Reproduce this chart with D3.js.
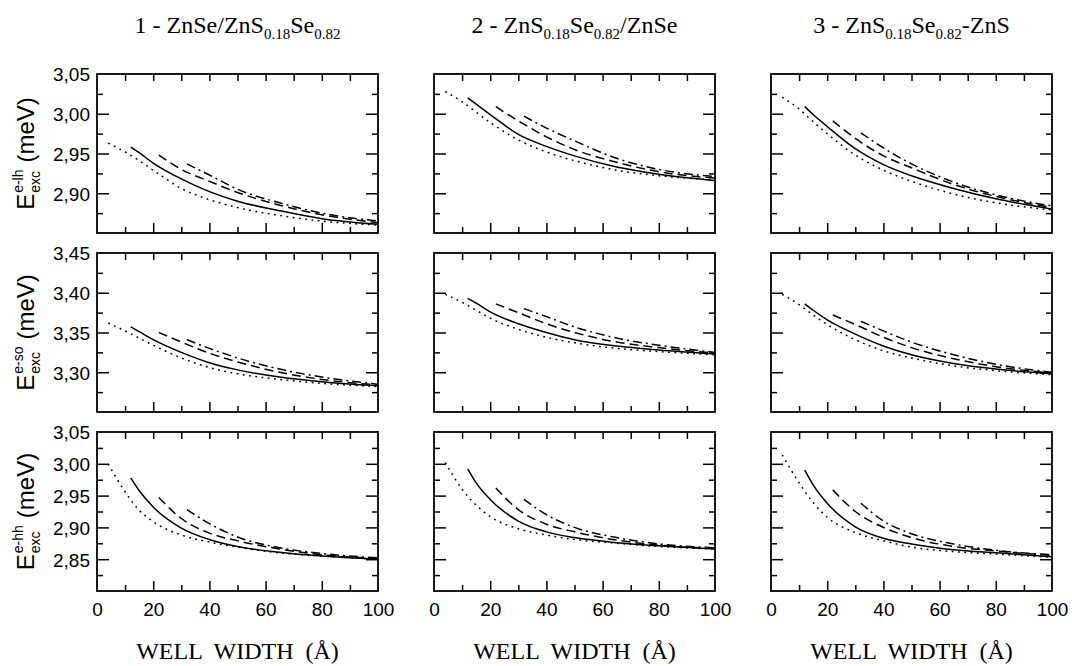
<!DOCTYPE html>
<html>
<head>
<meta charset="utf-8">
<script src="https://cdn.jsdelivr.net/npm/d3@7"></script>
<style>
  body { margin: 0; background: #fff; }
  text { fill: #000; }
</style>
</head>
<body>
<div id="chart"></div>
<script>
// Screen dimensions
var w = 1072;
var h = 666;

// Well widths (Å) at which each curve was read: dotted, solid, dashed, dash-dot
var dotX = [4, 10, 15, 20, 30, 40, 50, 65, 80, 100];
var solidX = [12, 15, 20, 30, 40, 50, 65, 80, 100];
var dashX = [22, 30, 40, 50, 65, 80, 100];
var dashDotX = [32, 40, 50, 65, 80, 100];

// Exciton energies (eV as printed), one array per panel: [dotted, solid, dashed, dash-dot]
// row 1: e-lh
var elh1 = [
  [2.963, 2.952, 2.941, 2.929, 2.906, 2.892, 2.882, 2.872, 2.865, 2.860],
  [2.958, 2.951, 2.938, 2.918, 2.902, 2.890, 2.878, 2.868, 2.861],
  [2.948, 2.930, 2.915, 2.901, 2.885, 2.873, 2.863],
  [2.937, 2.923, 2.905, 2.888, 2.875, 2.865]
];
var elh2 = [
  [3.028, 3.015, 3.002, 2.989, 2.967, 2.952, 2.941, 2.929, 2.922, 2.917],
  [3.020, 3.012, 2.999, 2.974, 2.959, 2.947, 2.933, 2.924, 2.916],
  [3.009, 2.991, 2.971, 2.955, 2.939, 2.927, 2.919],
  [2.997, 2.982, 2.966, 2.944, 2.930, 2.921]
];
var elh3 = [
  [3.021, 3.006, 2.990, 2.975, 2.948, 2.929, 2.915, 2.899, 2.888, 2.879],
  [3.009, 2.999, 2.984, 2.956, 2.936, 2.922, 2.906, 2.893, 2.880],
  [2.991, 2.969, 2.947, 2.932, 2.911, 2.896, 2.882],
  [2.976, 2.957, 2.937, 2.914, 2.898, 2.884]
];
// row 2: e-so
var eso1 = [
  [3.362, 3.352, 3.343, 3.334, 3.318, 3.306, 3.298, 3.291, 3.286, 3.282],
  [3.357, 3.351, 3.341, 3.325, 3.312, 3.303, 3.294, 3.288, 3.283],
  [3.350, 3.338, 3.324, 3.313, 3.300, 3.291, 3.284],
  [3.341, 3.330, 3.318, 3.304, 3.294, 3.285]
];
var eso2 = [
  [3.398, 3.388, 3.378, 3.368, 3.354, 3.344, 3.337, 3.330, 3.326, 3.322],
  [3.393, 3.387, 3.376, 3.361, 3.350, 3.341, 3.333, 3.328, 3.323],
  [3.386, 3.375, 3.361, 3.350, 3.338, 3.331, 3.324],
  [3.380, 3.370, 3.357, 3.343, 3.334, 3.325]
];
var eso3 = [
  [3.398, 3.385, 3.372, 3.360, 3.341, 3.327, 3.318, 3.308, 3.302, 3.297],
  [3.386, 3.378, 3.366, 3.348, 3.333, 3.322, 3.311, 3.304, 3.298],
  [3.372, 3.360, 3.344, 3.331, 3.317, 3.307, 3.299],
  [3.364, 3.352, 3.338, 3.322, 3.310, 3.300]
];
// row 3: e-hh
var ehh1 = [
  [3.000, 2.956, 2.927, 2.909, 2.888, 2.877, 2.869, 2.860, 2.855, 2.850],
  [2.978, 2.958, 2.932, 2.899, 2.881, 2.870, 2.861, 2.855, 2.850],
  [2.947, 2.914, 2.891, 2.879, 2.866, 2.857, 2.851],
  [2.928, 2.906, 2.885, 2.868, 2.859, 2.852]
];
var ehh2 = [
  [3.002, 2.960, 2.935, 2.917, 2.898, 2.888, 2.881, 2.875, 2.870, 2.866],
  [2.992, 2.970, 2.944, 2.910, 2.893, 2.884, 2.876, 2.871, 2.866],
  [2.962, 2.928, 2.905, 2.893, 2.880, 2.872, 2.867],
  [2.944, 2.920, 2.900, 2.884, 2.874, 2.868]
];
var ehh3 = [
  [3.014, 2.970, 2.939, 2.916, 2.892, 2.879, 2.869, 2.862, 2.858, 2.853],
  [2.990, 2.967, 2.938, 2.901, 2.883, 2.874, 2.865, 2.860, 2.854],
  [2.959, 2.925, 2.900, 2.884, 2.870, 2.863, 2.856],
  [2.938, 2.910, 2.890, 2.874, 2.864, 2.857]
];

// Axis settings
var xDomain = [0, 100];
var xLabels = [0, 20, 40, 60, 80, 100];
var yDomains = [[2.85, 3.05], [3.25, 3.45], [2.80, 3.05]];
var yLabels = [[3.05, 3.00, 2.95, 2.90], [3.45, 3.40, 3.35, 3.30], [3.05, 3.00, 2.95, 2.90, 2.85]];
var ySups = ["e-lh", "e-so", "e-hh"];

// Column titles: [text, subscript, text, subscript, text]
var titles = [
  ["1 - ZnSe/ZnS", "0.18", "Se", "0.82", ""],
  ["2 - ZnS", "0.18", "Se", "0.82", "/ZnSe"],
  ["3 - ZnS", "0.18", "Se", "0.82", "-ZnS"]
];

var panels = [[elh1, elh2, elh3], [eso1, eso2, eso3], [ehh1, ehh2, ehh3]];
var curveX = [dotX, solidX, dashX, dashDotX];
var dashes = ["1.8,4.5", null, "9,5", "9,4,2,4"];

// Layout
var colLeft = [97, 434, 771];
var pw = 281;
var rowTop = [74, 253, 432];
var ph = 159;

var sans = "'Liberation Sans', Arial, sans-serif";
var serif = "'Liberation Serif', 'Times New Roman', serif";
var fmt = function(d) { return d3.format(".2f")(d).replace(".", ","); };

var svg = d3.select("#chart")
  .append("svg")
  .attr("width", w)
  .attr("height", h);

svg.append("rect").attr("width", w).attr("height", h).attr("fill", "#fff");

// Titles
titles.forEach(function(t, c) {
  var txt = svg.append("text")
    .attr("x", colLeft[c] + pw / 2)
    .attr("y", 33)
    .attr("text-anchor", "middle")
    .attr("font-family", serif)
    .attr("font-size", 24);
  txt.append("tspan").text(t[0]);
  txt.append("tspan").attr("font-size", 15).attr("dy", 6).text(t[1]);
  txt.append("tspan").attr("dy", -6).text(t[2]);
  txt.append("tspan").attr("font-size", 15).attr("dy", 6).text(t[3]);
  if (t[4]) txt.append("tspan").attr("dy", -6).text(t[4]);
});

var line = function(x, y) {
  return d3.line()
    .x(function(d) { return x(d[0]); })
    .y(function(d) { return y(d[1]); })
    .curve(d3.curveMonotoneX);
};

for (var r = 0; r < 3; r++) {
  for (var c = 0; c < 3; c++) {
    var x = d3.scaleLinear().domain(xDomain).range([0, pw]);
    var y = d3.scaleLinear().domain(yDomains[r]).range([ph, 0]);
    var g = svg.append("g").attr("transform", "translate(" + colLeft[c] + "," + rowTop[r] + ")");

    var xMinor = d3.range(10, 100, 20);
    var yMinor = d3.range(0, 12).map(function(i) { return yDomains[r][0] + 0.025 + i * 0.05; })
      .filter(function(v) { return v < yDomains[r][1]; });
    var yMajor = d3.range(0, 6).map(function(i) { return yDomains[r][0] + i * 0.05; })
      .filter(function(v) { return v > yDomains[r][0] + 0.01 && v < yDomains[r][1] - 0.01; });

    // inward ticks on all four sides
    var axes = [
      d3.axisBottom(x).tickValues(xLabels.slice(1, 5)).tickSize(-10).tickFormat(""),
      d3.axisBottom(x).tickValues(xMinor).tickSize(-6).tickFormat(""),
      d3.axisTop(x).tickValues(xLabels.slice(1, 5)).tickSize(-7).tickFormat(""),
      d3.axisTop(x).tickValues(xMinor).tickSize(-7).tickFormat(""),
      d3.axisLeft(y).tickValues(yMajor).tickSize(-12).tickFormat(""),
      d3.axisLeft(y).tickValues(yMinor).tickSize(-6).tickFormat(""),
      d3.axisRight(y).tickValues(yMajor).tickSize(-12).tickFormat(""),
      d3.axisRight(y).tickValues(yMinor).tickSize(-6).tickFormat("")
    ];
    var trans = ["0," + ph, "0," + ph, "0,0", "0,0", "0,0", "0,0", pw + ",0", pw + ",0"];
    axes.forEach(function(a, i) {
      var ag = g.append("g").attr("transform", "translate(" + trans[i] + ")").call(a);
      ag.select(".domain").remove();
      ag.selectAll(".tick line").attr("stroke", "#000").attr("stroke-width", 1.5);
    });

    // tick labels
    if (c === 0) {
      var la = g.append("g").call(d3.axisLeft(y).tickValues(yLabels[r]).tickSize(0).tickPadding(7).tickFormat(fmt));
      la.select(".domain").remove();
      la.selectAll("text").attr("font-family", sans).attr("font-size", 19).attr("fill", "#000").attr("dy", "0.36em");
    }
    if (r === 2) {
      var lb = g.append("g").attr("transform", "translate(0," + ph + ")")
        .call(d3.axisBottom(x).tickValues(xLabels).tickSize(0).tickPadding(12).tickFormat(d3.format("d")));
      lb.select(".domain").remove();
      lb.selectAll("text").attr("font-family", sans).attr("font-size", 19).attr("fill", "#000");
    }

    // curves
    panels[r][c].forEach(function(vals, k) {
      var pts = curveX[k].map(function(xv, i) { return [xv, vals[i]]; });
      var p = g.append("path")
        .datum(pts)
        .attr("d", line(x, y))
        .attr("fill", "none")
        .attr("stroke", "#000")
        .attr("stroke-width", 1.5);
      if (dashes[k]) p.attr("stroke-dasharray", dashes[k]);
    });

    // frame
    g.append("rect")
      .attr("width", pw).attr("height", ph)
      .attr("fill", "none").attr("stroke", "#000").attr("stroke-width", 1.8);
  }

  // y axis title, rotated
  var yg = svg.append("g");
  var e = yg.append("text").attr("font-family", sans).attr("font-size", 24).text("E");
  var ew = e.node().getComputedTextLength();
  var sup = yg.append("text").attr("font-family", sans).attr("font-size", 14)
    .attr("x", ew + 1).attr("y", -11).text(ySups[r]);
  var sub = yg.append("text").attr("font-family", sans).attr("font-size", 14)
    .attr("x", ew + 1).attr("y", 6).text("exc");
  var sw = Math.max(sup.node().getComputedTextLength(), sub.node().getComputedTextLength());
  var unit = yg.append("text").attr("font-family", sans).attr("font-size", 24)
    .attr("x", ew + sw + 8).text("(meV)");
  var total = ew + sw + 8 + unit.node().getComputedTextLength();
  var cy = rowTop[r] + ph / 2;
  yg.attr("transform", "translate(34," + (cy + total / 2) + ") rotate(-90)");
}

// x axis titles
colLeft.forEach(function(l) {
  svg.append("text")
    .attr("x", l + pw / 2)
    .attr("y", 659)
    .attr("text-anchor", "middle")
    .attr("font-family", serif)
    .attr("font-size", 24)
    .attr("xml:space", "preserve")
    .style("white-space", "pre")
    .text("WELL  WIDTH  (Å)");
});
</script>
</body>
</html>
